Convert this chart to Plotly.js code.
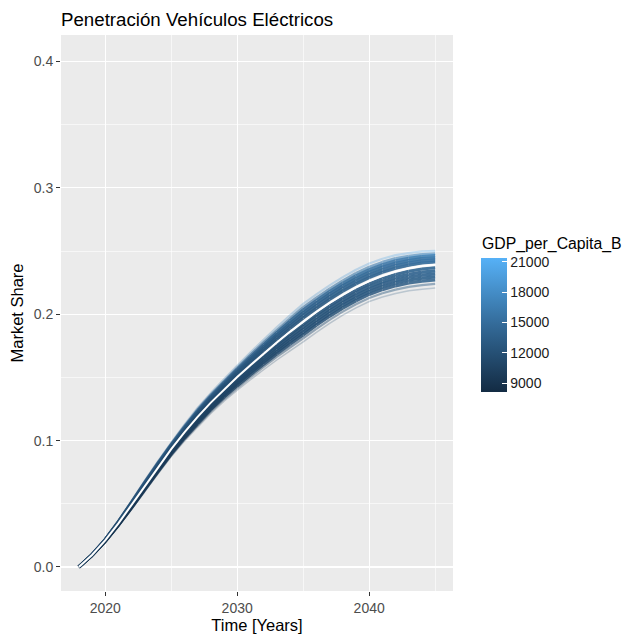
<!DOCTYPE html>
<html>
<head>
<meta charset="utf-8">
<script src="https://cdn.plot.ly/plotly-3.0.1.min.js"></script>
<style>body{margin:0;background:#fff}#chart{width:631px;height:640px}</style>
</head>
<body>
<div id="chart"></div>
<script>
// ---------------- data ----------------
const years = [2018,2019,2020,2021,2022,2023,2024,2025,2026,2027,2028,2029,2030,2031,2032,2033,2034,2035,2036,2037,2038,2039,2040,2041,2042,2043,2044,2045];

// GDP per capita path (colour variable), per year
const gdpPath = [9000,9150,9300,9450,9650,9850,10000,10200,10400,10600,10800,11000,11250,11450,11650,11850,12050,12250,12500,12700,12950,13150,13400,13650,13850,14100,14350,14600];

// white central line
const medianShare = [0.0000,0.0095,0.0210,0.0345,0.0492,0.0642,0.0790,0.0932,0.1065,0.1188,0.1301,0.1405,0.1503,0.1597,0.1688,0.1776,0.1861,0.1942,0.2018,0.2089,0.2154,0.2212,0.2262,0.2304,0.2338,0.2364,0.2382,0.2392];

// simulation runs
const runU1 = [0.0000,0.0100,0.0220,0.0365,0.0522,0.0682,0.0835,0.0982,0.1125,0.1258,0.1376,0.1485,0.1593,0.1697,0.1798,0.1896,0.1991,0.2082,0.2158,0.2229,0.2294,0.2352,0.2402,0.2439,0.2468,0.2484,0.2497,0.2502];
const runU2 = [0.0000,0.0099,0.0218,0.0361,0.0516,0.0674,0.0826,0.0972,0.1113,0.1244,0.1361,0.1469,0.1575,0.1677,0.1776,0.1872,0.1965,0.2054,0.2130,0.2201,0.2266,0.2324,0.2374,0.2412,0.2442,0.2460,0.2474,0.2480];
const runU3 = [0.0000,0.0098,0.0217,0.0358,0.0512,0.0668,0.0819,0.0965,0.1104,0.1234,0.1350,0.1457,0.1562,0.1662,0.1760,0.1854,0.1946,0.2033,0.2109,0.2180,0.2245,0.2303,0.2353,0.2392,0.2423,0.2442,0.2457,0.2464];
const runU4 = [0.0000,0.0098,0.0215,0.0355,0.0507,0.0662,0.0813,0.0957,0.1095,0.1223,0.1339,0.1445,0.1548,0.1647,0.1743,0.1836,0.1926,0.2012,0.2088,0.2159,0.2224,0.2282,0.2332,0.2372,0.2403,0.2424,0.2440,0.2447];
const runU5 = [0.0000,0.0097,0.0214,0.0352,0.0503,0.0656,0.0806,0.0950,0.1086,0.1213,0.1327,0.1433,0.1535,0.1632,0.1727,0.1818,0.1907,0.1991,0.2067,0.2138,0.2203,0.2261,0.2311,0.2351,0.2384,0.2406,0.2422,0.2431];
const runU6 = [0.0000,0.0096,0.0212,0.0349,0.0498,0.0650,0.0799,0.0942,0.1077,0.1202,0.1316,0.1421,0.1521,0.1617,0.1710,0.1800,0.1887,0.1970,0.2046,0.2117,0.2182,0.2240,0.2290,0.2331,0.2364,0.2388,0.2405,0.2414];
const runL1 = [0.0000,0.0094,0.0208,0.0342,0.0487,0.0636,0.0783,0.0924,0.1056,0.1177,0.1290,0.1393,0.1489,0.1582,0.1671,0.1758,0.1841,0.1921,0.1997,0.2068,0.2133,0.2191,0.2241,0.2282,0.2315,0.2341,0.2358,0.2368];
const runL2 = [0.0000,0.0093,0.0207,0.0339,0.0483,0.0630,0.0776,0.0917,0.1047,0.1167,0.1278,0.1381,0.1476,0.1567,0.1655,0.1740,0.1822,0.1900,0.1976,0.2047,0.2112,0.2170,0.2220,0.2260,0.2293,0.2317,0.2334,0.2344];
const runL3 = [0.0000,0.0093,0.0205,0.0336,0.0478,0.0624,0.0770,0.0909,0.1038,0.1156,0.1267,0.1369,0.1462,0.1552,0.1638,0.1722,0.1802,0.1879,0.1955,0.2026,0.2091,0.2149,0.2199,0.2239,0.2270,0.2294,0.2310,0.2320];
const runL4 = [0.0000,0.0092,0.0204,0.0333,0.0474,0.0618,0.0763,0.0902,0.1029,0.1146,0.1256,0.1357,0.1449,0.1537,0.1622,0.1704,0.1783,0.1858,0.1934,0.2005,0.2070,0.2128,0.2178,0.2217,0.2248,0.2271,0.2286,0.2296];
const runL5 = [0.0000,0.0091,0.0202,0.0330,0.0469,0.0612,0.0756,0.0894,0.1020,0.1135,0.1245,0.1345,0.1435,0.1522,0.1605,0.1686,0.1763,0.1837,0.1913,0.1984,0.2049,0.2107,0.2157,0.2195,0.2225,0.2248,0.2262,0.2272];
const runL6 = [0.0000,0.0090,0.0200,0.0326,0.0463,0.0604,0.0747,0.0884,0.1008,0.1121,0.1230,0.1329,0.1417,0.1502,0.1583,0.1662,0.1737,0.1809,0.1885,0.1956,0.2021,0.2079,0.2129,0.2166,0.2195,0.2217,0.2230,0.2240];
const runL7 = [0.0000,0.0089,0.0198,0.0322,0.0457,0.0596,0.0738,0.0874,0.0996,0.1107,0.1215,0.1313,0.1399,0.1482,0.1561,0.1638,0.1711,0.1781,0.1857,0.1928,0.1993,0.2051,0.2101,0.2137,0.2165,0.2186,0.2198,0.2208];

// GDP multiplier of each run relative to gdpPath
const runGdpFactor = [0.908,0.92,0.95,0.97,0.98,0.99,1.00,1.04,1.07,1.10,1.14,1.22,1.468];
const runs = [runL7,runL6,runL5,runL4,runL3,runL2,runL1,runU6,runU5,runU4,runU3,runU2,runU1];

const colorbarTicks = [9000,12000,15000,18000,21000];

// ---------------- styles ----------------
const runStyle = [
  {w:1.5,a:0.25},{w:2.2,a:0.45},{w:3.2,a:0.85},{w:3.2,a:0.9},{w:3.2,a:0.9},{w:3.2,a:0.9},{w:3.0,a:0.9},
  {w:3.0,a:0.9},{w:3.2,a:0.9},{w:3.2,a:0.9},{w:3.2,a:0.85},{w:2.8,a:0.6},{w:2.2,a:0.3}
];
const scaleStops = [[0,[19,43,67]],[0.5,[51,106,152]],[1,[86,177,247]]];

let cmin = Infinity, cmax = -Infinity;
runGdpFactor.forEach(f => gdpPath.forEach(g => { cmin = Math.min(cmin, g*f); cmax = Math.max(cmax, g*f); }));

function gdpColor(v, alpha){
  let t = (v - cmin) / (cmax - cmin);
  t = Math.max(0, Math.min(1, t));
  const i = t < 0.5 ? 0 : 1;
  const lt = (t - scaleStops[i][0]) / (scaleStops[i+1][0] - scaleStops[i][0]);
  const a = scaleStops[i][1], b = scaleStops[i+1][1];
  const c = a.map((x,k) => Math.round(x + (b[k]-x)*lt));
  return 'rgba(' + c[0] + ',' + c[1] + ',' + c[2] + ',' + alpha + ')';
}

const traces = [];
runs.forEach((run, r) => {
  for (let j = 0; j < years.length - 1; j++) {
    const g = (gdpPath[j] + gdpPath[j+1]) / 2 * runGdpFactor[r];
    traces.push({
      type:'scatter', mode:'lines',
      x:[years[j], years[j+1]], y:[run[j], run[j+1]],
      line:{color:gdpColor(g, runStyle[r].a), width:runStyle[r].w},
      hoverinfo:'skip', showlegend:false
    });
  }
});

traces.push({
  type:'scatter', mode:'lines', x:years, y:medianShare,
  line:{color:'#FFFFFF', width:2},
  hoverinfo:'skip', showlegend:false
});

// colour-bar carrier
traces.push({
  type:'scatter', mode:'markers', x:[years[0], years[0]], y:[medianShare[0], medianShare[0]],
  marker:{
    color:[cmin, cmax], cmin:cmin, cmax:cmax, size:1, opacity:0,
    colorscale:[[0,'#132B43'],[0.5,'#336A98'],[1,'#56B1F7']],
    showscale:true,
    colorbar:{
      x:(481-61)/392, xanchor:'left', y:1-(324.5-35)/556, yanchor:'middle',
      len:134, lenmode:'pixels', thickness:26, thicknessmode:'pixels',
      xpad:0, ypad:0, outlinewidth:0, borderwidth:0,
      tickvals:colorbarTicks, tickformat:'d',
      ticks:'inside', ticklen:5, tickcolor:'#FFFFFF', tickwidth:1,
      tickfont:{size:14, color:'#1A1A1A'},
      title:{text:''}
    }
  },
  hoverinfo:'skip', showlegend:false
});

const gridCol = '#FFFFFF';
const layout = {
  width:631, height:640,
  margin:{l:61, r:178, t:35, b:49, pad:0},
  paper_bgcolor:'#FFFFFF', plot_bgcolor:'#EBEBEB',
  font:{family:'"Liberation Sans", Arial, sans-serif', color:'#000000'},
  title:{text:'Penetración Vehículos Eléctricos', x:61/631, xanchor:'left', xref:'container',
         y:1-19/640, yanchor:'middle', yref:'container', font:{size:18.7, color:'#000000'}},
  xaxis:{
    range:[2016.65, 2046.35], tick0:2020, dtick:10,
    ticks:'outside', ticklen:4, tickwidth:1, tickcolor:'#333333',
    tickfont:{size:14, color:'#4D4D4D'},
    showgrid:true, gridcolor:gridCol, gridwidth:1.1, zeroline:false, showline:false,
    minor:{tick0:2015, dtick:5, showgrid:true, gridcolor:gridCol, gridwidth:0.6, ticks:''},
    title:{text:'Time [Years]', font:{size:16.5, color:'#000000'}, standoff:3},
    automargin:false, fixedrange:true
  },
  yaxis:{
    range:[-0.019, 0.421], tick0:0, dtick:0.1, tickformat:'.1f',
    ticks:'outside', ticklen:4, tickwidth:1, tickcolor:'#333333',
    tickfont:{size:14, color:'#4D4D4D'},
    showgrid:true, gridcolor:gridCol, gridwidth:1.1, zeroline:false, showline:false,
    minor:{tick0:0.05, dtick:0.1, showgrid:true, gridcolor:gridCol, gridwidth:0.6, ticks:''},
    title:{text:'Market Share', font:{size:16.5, color:'#000000'}, standoff:5},
    automargin:false, fixedrange:true
  },
  annotations:[{
    text:'GDP_per_Capita_B', xref:'paper', yref:'paper',
    x:(480-61)/392, y:1-(244-35)/556, xanchor:'left', yanchor:'middle',
    showarrow:false, font:{size:15.8, color:'#000000'}
  }],
  showlegend:false, hovermode:false
};

Plotly.newPlot('chart', traces, layout, {displayModeBar:false, staticPlot:true});
</script>
</body>
</html>
